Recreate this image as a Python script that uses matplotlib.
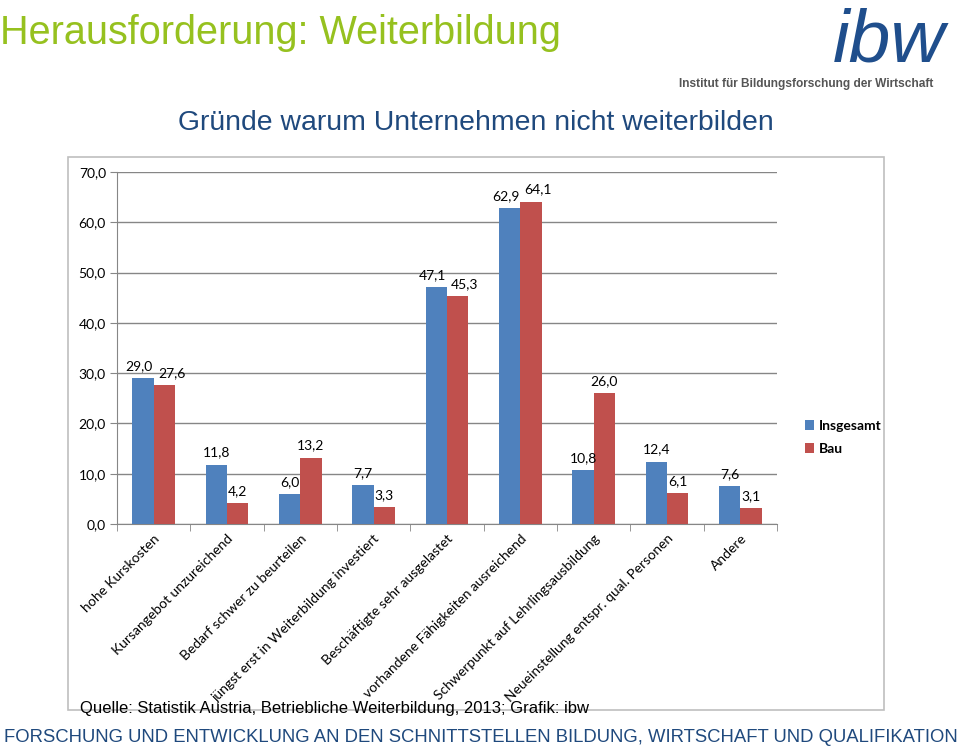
import numpy as np
import matplotlib.pyplot as plt
from matplotlib.patches import Rectangle

categories = ['hohe Kurskosten', 'Kursangebot unzureichend', 'Bedarf schwer zu beurteilen',
              'jüngst erst in Weiterbildung investiert', 'Beschäftigte sehr ausgelastet',
              'vorhandene Fähigkeiten ausreichend', 'Schwerpunkt auf Lehrlingsausbildung',
              'Neueinstellung entspr. qual. Personen', 'Andere']
insgesamt = [29.0, 11.8, 6.0, 7.7, 47.1, 62.9, 10.8, 12.4, 7.6]
bau = [27.6, 4.2, 13.2, 3.3, 45.3, 64.1, 26.0, 6.1, 3.1]
yticks = [0, 10, 20, 30, 40, 50, 60, 70]

blue = '#4F81BD'
red = '#C0504D'
lab_font = 'Lato'

fig = plt.figure(figsize=(9.59, 7.47), dpi=100)
W, H = 959, 747

def fx(px):
    return px / W

def fy(py):
    return 1 - py / H

# chart frame
fig.patches.append(Rectangle((fx(68), fy(710)), fx(884) - fx(68), fy(157) - fy(710),
                             transform=fig.transFigure, fill=False, edgecolor='#BFBFBF', lw=1.2))

ax = fig.add_axes([fx(117), fy(524), fx(777) - fx(117), fy(172) - fy(524)])
x = np.arange(len(categories))
bw = 0.29
ax.bar(x - bw / 2, insgesamt, bw, color=blue, label='Insgesamt', zorder=3)
ax.bar(x + bw / 2, bau, bw, color=red, label='Bau', zorder=3)

for i in range(len(categories)):
    # labels of nearly equal height get pushed apart, as excel does
    shift = 0.1 if abs(insgesamt[i] - bau[i]) < 3 else 0
    ax.text(x[i] - bw / 2 - shift / 2, insgesamt[i] + 1.2, f'{insgesamt[i]:.1f}'.replace('.', ','),
            ha='center', va='bottom', fontsize=10, family=lab_font, zorder=4)
    ax.text(x[i] + bw / 2 + shift, bau[i] + 1.2, f'{bau[i]:.1f}'.replace('.', ','),
            ha='center', va='bottom', fontsize=10, family=lab_font, zorder=4)

ax.set_xlim(-0.5, len(categories) - 0.5)
ax.set_ylim(0, 70)
ax.set_yticks(yticks)
ax.set_yticklabels([f'{v:.1f}'.replace('.', ',') for v in yticks], fontsize=10, family=lab_font)
ax.yaxis.grid(True, color='#868686', lw=1, zorder=0)
ax.set_xticks(np.arange(len(categories) + 1) - 0.5, minor=True)
ax.set_xticks(x)
ax.set_xticklabels(categories, rotation=45, ha='right', va='top', rotation_mode='anchor',
                   fontsize=10, family=lab_font)
ax.tick_params(axis='x', which='major', length=0, pad=6)
ax.tick_params(axis='x', which='minor', length=5, color='#868686')
ax.tick_params(axis='y', length=5, color='#868686', pad=3)
for s in ['top', 'right']:
    ax.spines[s].set_visible(False)
ax.spines['left'].set_color('#868686')
ax.spines['bottom'].set_color('#868686')

fig.legend(loc='upper left', bbox_to_anchor=(fx(792), fy(407)), frameon=False,
           prop={'family': lab_font, 'size': 10, 'weight': 'bold'},
           handlelength=0.7, handleheight=0.7, handletextpad=0.3, labelspacing=0.8)

# texts around the chart
fig.text(fx(0), fy(33), 'Herausforderung: Weiterbildung', fontsize=28.5, color='#96C11F',
         family='Liberation Sans', va='center', ha='left')
fig.text(fx(476), fy(123), 'Gründe warum Unternehmen nicht weiterbilden', fontsize=20.4,
         color='#1F497D', family='Liberation Sans', va='center', ha='center')
fig.text(fx(889), fy(62), 'ibw', fontsize=54, color='#1F4E8C', family='Liberation Sans',
         style='italic', va='baseline', ha='center')
fig.text(fx(806), fy(84), 'Institut für Bildungsforschung der Wirtschaft', fontsize=8.6,
         color='#555555', family='Liberation Sans', va='center', ha='center',
         fontweight='bold')
fig.text(fx(80), fy(708), 'Quelle: Statistik Austria, Betriebliche Weiterbildung, 2013; Grafik: ibw',
         fontsize=12, color='black', family='Liberation Sans', va='center', ha='left')
fig.text(fx(481), fy(737), 'FORSCHUNG UND ENTWICKLUNG AN DEN SCHNITTSTELLEN BILDUNG, WIRTSCHAFT UND QUALIFIKATION',
         fontsize=13.3, color='#1F497D', family='Liberation Sans', va='center', ha='center')

fig.savefig('out.png', dpi=100)
